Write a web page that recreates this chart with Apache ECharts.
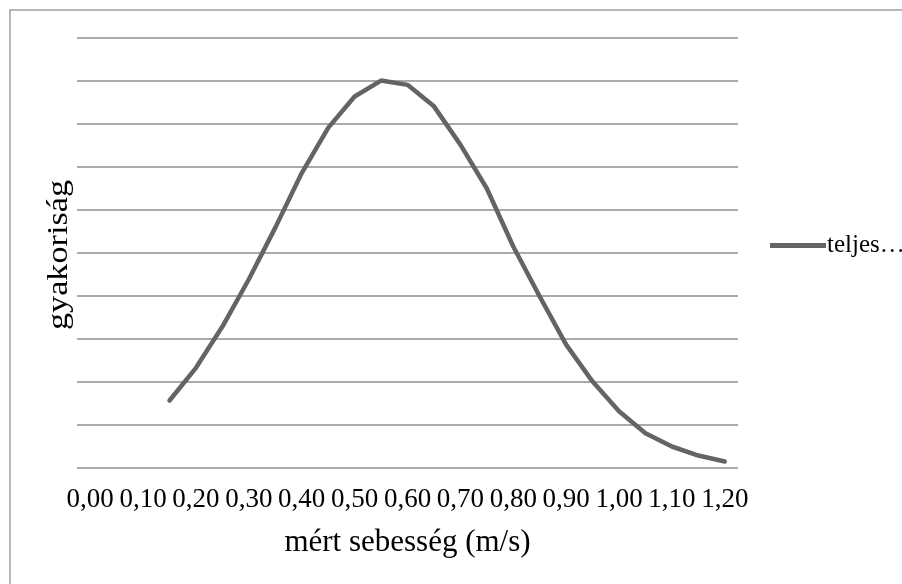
<!DOCTYPE html>
<html>
<head>
<meta charset="utf-8">
<script src="https://cdn.jsdelivr.net/npm/echarts@6/dist/echarts.min.js"></script>
<style>
  html, body { margin: 0; padding: 0; background: #ffffff; }
  #chart { width: 902px; height: 584px; }
</style>
</head>
<body>
<div id="chart"></div>
<script>
// Measured speed classes (m/s), every 0.05 from 0.00 to 1.20
const speeds = [
  '0,00', '0,05', '0,10', '0,15', '0,20', '0,25', '0,30', '0,35', '0,40',
  '0,45', '0,50', '0,55', '0,60', '0,65', '0,70', '0,75', '0,80', '0,85',
  '0,90', '0,95', '1,00', '1,05', '1,10', '1,15', '1,20'
];

// Frequency per speed class (no data below 0,15)
const frequency = [
  null, null, null,
  1.57, 2.33, 3.29, 4.39, 5.59, 6.86, 7.91, 8.64, 9.01, 8.91, 8.41,
  7.52, 6.50, 5.15, 3.99, 2.87, 2.01, 1.32, 0.81, 0.50, 0.29, 0.15
];

const seriesName = 'teljes…';
const xTitle = 'mért sebesség (m/s)';
const yTitle = 'gyakoriság';

const serif = '"Liberation Serif", "Times New Roman", serif';
const gridColor = '#8e8e8e';
const lineColor = '#646464';

const chart = echarts.init(document.getElementById('chart'), null, { renderer: 'canvas' });

chart.setOption({
  backgroundColor: '#ffffff',
  animation: false,
  graphic: [
    {
      // outer chart-area frame
      type: 'rect',
      shape: { x: 10, y: 10, width: 900, height: 580 },
      style: { fill: 'none', stroke: '#a0a0a0', lineWidth: 1.5 },
      silent: true
    },
    {
      // vertical axis title, widened along its baseline
      type: 'text',
      x: 59,
      y: 255,
      rotation: Math.PI / 2,
      scaleX: 1.18,
      style: {
        text: yTitle,
        fontFamily: serif,
        fontSize: 29,
        fill: '#000000',
        align: 'center',
        verticalAlign: 'middle'
      },
      silent: true
    }
  ],
  grid: { left: 77, right: 164, top: 38, bottom: 116 },
  legend: {
    data: [seriesName],
    left: 765,
    top: 228,
    icon: 'rect',
    itemWidth: 56,
    itemHeight: 5,
    itemGap: 0,
    textStyle: { fontFamily: serif, fontSize: 25, color: '#000000', padding: [0, 0, 0, -4] }
  },
  xAxis: {
    type: 'category',
    data: speeds,
    boundaryGap: true,
    name: xTitle,
    nameLocation: 'middle',
    nameGap: 59,
    nameTextStyle: { fontFamily: serif, fontSize: 31, color: '#000000' },
    axisLine: { show: false },
    axisTick: { show: false },
    axisLabel: {
      interval: 1,
      margin: 18,
      fontFamily: serif,
      fontSize: 27,
      color: '#000000'
    },
    splitLine: { show: false }
  },
  yAxis: {
    type: 'value',
    min: 0,
    max: 10,
    interval: 1,
    axisLine: { show: false },
    axisTick: { show: false },
    axisLabel: { show: false },
    splitLine: { show: true, lineStyle: { color: gridColor, width: 1.5 } }
  },
  series: [{
    name: seriesName,
    type: 'line',
    data: frequency,
    showSymbol: false,
    symbol: 'none',
    connectNulls: false,
    lineStyle: { color: lineColor, width: 4.5, cap: 'round', join: 'round' },
    itemStyle: { color: lineColor }
  }]
});
</script>
</body>
</html>
